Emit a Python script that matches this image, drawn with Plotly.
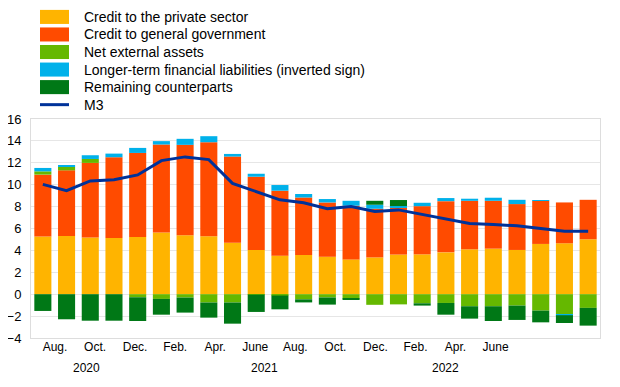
import plotly.graph_objects as go

# ---------------- data ----------------
months = ["Jul 2020", "Aug 2020", "Sep 2020", "Oct 2020", "Nov 2020", "Dec 2020",
          "Jan 2021", "Feb 2021", "Mar 2021", "Apr 2021", "May 2021", "Jun 2021",
          "Jul 2021", "Aug 2021", "Sep 2021", "Oct 2021", "Nov 2021", "Dec 2021",
          "Jan 2022", "Feb 2022", "Mar 2022", "Apr 2022", "May 2022", "Jun 2022"]

credit_private = [5.26, 5.32, 5.17, 5.14, 5.23, 5.63, 5.38, 5.29, 4.71, 4.04, 3.52, 3.58,
                  3.43, 3.18, 3.36, 3.62, 3.64, 3.82, 4.10, 4.16, 4.04, 4.59, 4.65, 5.02]
credit_government = [5.66, 5.99, 6.82, 7.37, 7.67, 8.04, 8.26, 8.59, 7.86, 6.69, 5.93, 5.25,
                     4.95, 4.90, 4.44, 4.33, 4.40, 4.68, 4.43, 4.37, 4.19, 3.94, 3.73, 3.60]
net_external = [0.30, 0.31, 0.36, 0.00, -0.28, -0.43, -0.31, -0.76, -0.76, -0.04, -0.12, -0.47,
                -0.30, -0.40, -0.97, -0.93, -0.83, -0.80, -1.10, -1.10, -1.04, -1.50, -1.83, -1.25]
longer_term_liab = [0.31, 0.12, 0.34, 0.33, 0.46, 0.31, 0.55, 0.55, 0.24, 0.27, 0.52, 0.32,
                    0.31, 0.45, 0.37, 0.10, 0.31, 0.28, 0.19, 0.28, 0.39, 0.06, -0.09, 0.00]
remaining = [-1.53, -2.29, -2.42, -2.42, -2.17, -1.44, -1.37, -1.38, -1.93, -1.58, -1.26, -0.28,
             -0.65, -0.13, 0.36, 0.55, -0.21, -1.07, -1.13, -1.35, -1.31, -1.07, -0.71, -1.62]
m3 = [10.03, 9.45, 10.34, 10.46, 10.89, 12.20, 12.54, 12.29, 10.12, 9.37, 8.62, 8.35,
      7.80, 8.01, 7.55, 7.70, 7.30, 6.88, 6.45, 6.36, 6.24, 5.99, 5.75, 5.75]

tick_months = ["Aug.", "Oct.", "Dec.", "Feb.", "Apr.", "June",
               "Aug.", "Oct.", "Dec.", "Feb.", "Apr.", "June"]
year_labels = ["2020", "2021", "2022"]
year_label_pos = [0.79, 5.24, 9.76]   # positions on the label axis

series_names = ["Credit to the private sector", "Credit to general government",
                "Net external assets", "Longer-term financial liabilities (inverted sign)",
                "Remaining counterparts"]
series_colors = ["#FFB400", "#FF4B00", "#65B800", "#00B1EA", "#007816"]
m3_color = "#003299"

# ---------------- layout geometry (page pixels) ----------------
OFF = 8                      # default page body margin
W, H = 620 - OFF, 387 - OFF  # figure size so that it fits the window
PL, PR, PT, PB = 31, 600, 119.3, 337.7   # plot area edges on the page
PW, PH = PR - PL, PB - PT
FONT = "Liberation Sans, Arial, sans-serif"

def px_x(px):
    return (px - PL) / PW

def px_y(py):
    return (PB - py) / PH

# label axis: first label at 55 px, spacing 40.05 px
lab_first, lab_step = 55.0, 40.05
lab_lo = -(lab_first - PL) / lab_step
lab_hi = lab_lo + PW / lab_step

fig = go.Figure()
values = [credit_private, credit_government, net_external, longer_term_liab, remaining]
for name, vals, col in zip(series_names, values, series_colors):
    fig.add_trace(go.Bar(x=months, y=vals, name=name, marker_color=col,
                         marker_line_width=0, showlegend=False))
fig.add_trace(go.Scatter(x=months, y=m3, name="M3", mode="lines",
                         line=dict(color=m3_color, width=3), showlegend=False))

# custom legend
legend_rows = [17.5, 35, 52.5, 70, 87.5, 105]
sw_half = 7
shapes = []
annotations = []
for i, (name, col) in enumerate(zip(series_names + ["M3"], series_colors + [m3_color])):
    cy = legend_rows[i]
    if i < 5:
        shapes.append(dict(type="rect", xref="paper", yref="paper",
                           x0=px_x(40), x1=px_x(69), y0=px_y(cy + sw_half), y1=px_y(cy - sw_half),
                           fillcolor=col, line=dict(width=0)))
    else:
        shapes.append(dict(type="line", xref="paper", yref="paper",
                           x0=px_x(40), x1=px_x(69), y0=px_y(cy), y1=px_y(cy),
                           line=dict(color=col, width=3)))
    annotations.append(dict(text=name, xref="paper", yref="paper", x=px_x(82), y=px_y(cy),
                            xanchor="left", yanchor="middle", showarrow=False,
                            font=dict(size=14, color="#000000", family=FONT)))

for yl, pos in zip(year_labels, year_label_pos):
    annotations.append(dict(text=yl, xref="x2", yref="paper", x=pos, y=px_y(368),
                            xanchor="center", yanchor="middle", showarrow=False,
                            font=dict(size=12, color="#000000", family=FONT)))

fig.update_layout(
    width=W, height=H,
    margin=dict(l=PL - OFF, r=W - (PR - OFF), t=PT - OFF, b=H - (PB - OFF), pad=0,
                autoexpand=False),
    barmode="relative", bargap=0.28,
    plot_bgcolor="white", paper_bgcolor="white",
    font=dict(family=FONT, color="#000000"),
    shapes=shapes, annotations=annotations,
    xaxis=dict(type="category", range=[-0.5, 23.5], showticklabels=False, ticks="",
               showgrid=False, zeroline=False, showline=True, mirror=True,
               linecolor="#dddddd", linewidth=1, automargin=False),
    xaxis2=dict(overlaying="x", anchor="y", side="bottom", range=[lab_lo, lab_hi],
                tickmode="array", tickvals=list(range(12)), ticktext=tick_months,
                showgrid=False, zeroline=False, showline=False, ticks="",
                automargin=False,
                tickfont=dict(size=12, family=FONT, color="#000000")),
    yaxis=dict(range=[-4, 16], dtick=2, tick0=0, showgrid=True, gridcolor="#e6e6e6",
               gridwidth=1, zeroline=False, showline=True, mirror=True,
               linecolor="#dddddd", linewidth=1, ticks="", ticklabelstandoff=6,
               automargin=False,
               tickfont=dict(size=13, family=FONT, color="#000000")),
)

fig.write_html("out.html")
